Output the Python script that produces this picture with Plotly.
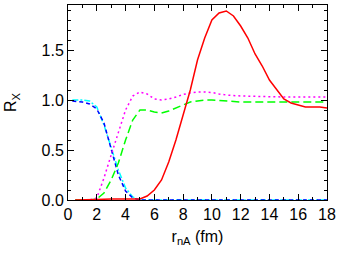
import plotly.graph_objects as go

# red solid
x_red = [0.5, 1, 2, 3, 4, 4.5, 5, 5.5, 6, 6.5, 7, 7.5, 8, 8.5, 9, 9.5, 10, 10.5, 11, 11.5, 12,
         12.5, 13, 13.5, 14, 14.5, 15, 15.5, 16, 16.5, 17, 17.5, 18]
y_red = [0, 0, 0.005, 0.01, 0.01, 0.01, 0.01, 0.04, 0.1, 0.2, 0.38, 0.6, 0.86, 1.1, 1.4, 1.62,
         1.8, 1.87, 1.89, 1.84, 1.74, 1.62, 1.46, 1.34, 1.2, 1.1, 1.01, 0.97, 0.95, 0.93, 0.93, 0.93, 0.92]

# magenta dotted
x_mag = [0.5, 1, 1.5, 2, 2.5, 3, 3.5, 4, 4.5, 5, 5.5, 6, 6.5, 7, 7.5, 8, 8.5, 9, 9.5, 10, 10.5,
         11, 12, 13, 14, 15, 16, 17, 18]
y_mag = [0, 0, 0, 0.02, 0.22, 0.45, 0.68, 0.9, 1.04, 1.08, 1.06, 1.01, 1.0, 1.01, 1.03, 1.055,
         1.07, 1.08, 1.08, 1.075, 1.06, 1.05, 1.04, 1.035, 1.03, 1.03, 1.03, 1.03, 1.03]

# green dashed
x_grn = [0.5, 1, 1.5, 2, 2.5, 3, 3.5, 4, 4.5, 5, 5.5, 6, 6.5, 7, 7.5, 8, 8.5, 9, 9.5, 10, 11,
         12, 13, 14, 15, 16, 17, 18]
y_grn = [0, 0, 0, 0.01, 0.07, 0.2, 0.37, 0.6, 0.8, 0.9, 0.9, 0.88, 0.87, 0.89, 0.92, 0.95, 0.98,
         0.99, 1.0, 1.0, 0.99, 0.98, 0.98, 0.98, 0.98, 0.98, 0.98, 0.98]

# cyan dash-dot
x_cyn = [0.3, 1, 1.5, 2, 2.5, 3, 3.5, 4, 4.5, 5, 6, 8, 10, 12, 14, 16, 18]
y_cyn = [1.0, 1.0, 0.99, 0.93, 0.75, 0.53, 0.3, 0.12, 0.03, 0.0, 0, 0, 0, 0, 0, 0, 0]

# blue dashed
x_blu = [0.3, 1, 1.5, 2, 2.5, 3, 3.5, 4, 4.5, 5, 6, 8, 10, 12, 14, 16, 18]
y_blu = [0.99, 0.98, 0.96, 0.91, 0.77, 0.5, 0.25, 0.09, 0.02, 0.0, 0, 0, 0, 0, 0, 0, 0]

x_ticks = [0, 2, 4, 6, 8, 10, 12, 14, 16, 18]
y_ticks = [0.0, 0.5, 1.0, 1.5]

fig = go.Figure()
fig.add_trace(go.Scatter(x=x_cyn, y=y_cyn, mode="lines",
                         line=dict(color="#00ffff", width=1.5, dash="6px,2px,2px,2px")))
fig.add_trace(go.Scatter(x=x_blu, y=y_blu, mode="lines",
                         line=dict(color="#0000ff", width=1.5, dash="4px,3px")))
fig.add_trace(go.Scatter(x=x_mag, y=y_mag, mode="lines",
                         line=dict(color="#ff00ff", width=1.5, dash="2px,3px")))
fig.add_trace(go.Scatter(x=x_grn, y=y_grn, mode="lines",
                         line=dict(color="#00ff00", width=1.5, dash="8px,4px")))
fig.add_trace(go.Scatter(x=x_red, y=y_red, mode="lines",
                         line=dict(color="#ff0000", width=1.5)))

font = dict(family="Liberation Sans, Arial, sans-serif", size=16, color="black")

fig.update_layout(
    width=340, height=255,
    margin=dict(l=68, r=13, t=5, b=55),
    paper_bgcolor="white", plot_bgcolor="white",
    showlegend=False,
    font=font,
    xaxis=dict(range=[0, 18], tickvals=x_ticks, ticktext=[str(v) for v in x_ticks],
               ticks="inside", ticklen=6, tickwidth=1, tickcolor="black",
               minor=dict(dtick=1, ticks="inside", ticklen=3, tickcolor="black"),
               showline=True, linecolor="black", linewidth=1, mirror="ticks",
               showgrid=False, zeroline=False,
               title=dict(text="r<sub>nA</sub> (fm)", font=font, standoff=8)),
    yaxis=dict(range=[0, 1.95], tickvals=y_ticks, ticktext=["0.0", "0.5", "1.0", "1.5"],
               ticks="inside", ticklen=6, tickwidth=1, tickcolor="black",
               minor=dict(dtick=0.1, ticks="inside", ticklen=3, tickcolor="black"),
               showline=True, linecolor="black", linewidth=1, mirror="ticks",
               showgrid=False, zeroline=False,
               title=dict(text="R<sub>X</sub>", font=font, standoff=20)),
)

fig.write_html("out.html", config={"displayModeBar": False},
               post_script="document.body.style.margin='0';")
